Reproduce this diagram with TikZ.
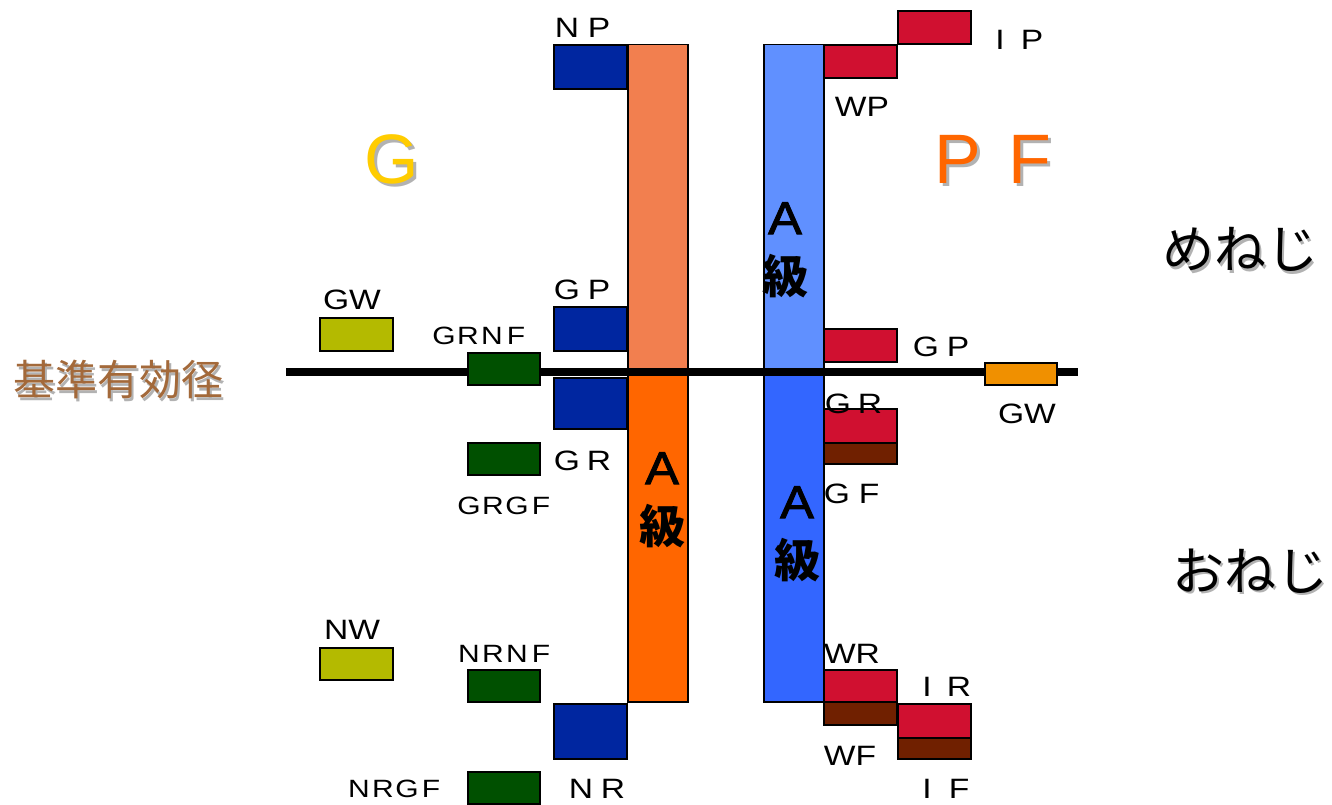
\documentclass[tikz,border=0pt]{standalone}
\usepackage{fontspec}
\setmainfont{Liberation Sans}
\newfontfamily\lblfont[FakeStretch=1.2]{Liberation Sans}
\newfontfamily\gradefont[FakeStretch=1.1,FakeBold=2]{Liberation Sans}
\newfontfamily\jpfont{Noto Sans CJK JP}
\usepackage{xcolor}

\definecolor{barG1}{RGB}{242,127,79}
\definecolor{barG2}{RGB}{255,102,0}
\definecolor{barP1}{RGB}{96,144,255}
\definecolor{barP2}{RGB}{51,102,255}
\definecolor{navy}{RGB}{0,38,160}
\definecolor{dgreen}{RGB}{0,80,0}
\definecolor{olive}{RGB}{180,186,0}
\definecolor{crimson}{RGB}{208,16,48}
\definecolor{rust}{RGB}{112,32,0}
\definecolor{amber}{RGB}{240,144,0}
\definecolor{gold}{RGB}{255,204,0}
\definecolor{tan}{RGB}{163,105,58}

% one letter in a fixed cell
\newcommand{\cell}[1]{\makebox[32pt][c]{#1}}
\newcommand{\qcell}[1]{\makebox[24pt][c]{#1}}
% text with a grey drop shadow
\newcommand{\shd}[1]{\rlap{\kern2.5pt\raisebox{-2.5pt}{\color{black!30}#1}}#1}

\begin{document}
\begin{tikzpicture}[
    x=1pt, y=-1pt,
    bar/.style ={
        draw=black,
        line width=1.5pt,
        anchor=north west,
        inner sep=0pt,
        minimum width=60pt
    },
    box/.style ={
        draw=black,
        line width=2pt,
        anchor=north west,
        inner sep=0pt
    },
    lbl/.style ={
        font=\lblfont\fontsize{28}{28}\selectfont,
        inner sep=0pt
    },
    qlbl/.style ={
        font=\lblfont\fontsize{25}{25}\selectfont,
        inner sep=0pt
    },
    grade/.style ={
        font=\gradefont\fontsize{46}{59}\selectfont,
        align=center,
        inner sep=0pt
    },
    big/.style ={
        font=\fontsize{70}{70}\selectfont,
        inner sep=0pt
    },
    jp/.style ={
        font=\jpfont\fontsize{52}{52}\selectfont,
        inner sep=0pt
    }
    ]

    \useasboundingbox (0,0) rectangle (1332,805);

    % tolerance bars
    \node[bar, fill=barG1, minimum height=328pt] (ga) at (627,44) {};
    \node[bar, fill=barG2, minimum height=329pt] (gb) at (627,372) {};
    \node[bar, fill=barP1, minimum height=328pt] (pa) at (763,44) {};
    \node[bar, fill=barP2, minimum height=329pt] (pb) at (763,372) {};

    % base pitch diameter
    \coordinate (base w) at (286,372);
    \coordinate (base e) at (1078,372);
    \draw[line width=8pt] (base w) -- (base e);

    \foreach \name/\x/\y/\h in {np/553/44/44, ngp/553/306/44, ngr/553/377/51, nr/553/703/55}
        \node[box, fill=navy, minimum width=73pt, minimum height=\h*1pt] (\name) at (\x,\y) {};
    \foreach \name/\y in {grnf/352, grgf/442, nrnf/669, nrgf/771}
        \node[box, fill=dgreen, minimum width=72pt, minimum height=32pt] (\name) at (467,\y) {};
    \foreach \name/\y/\h in {gw/317/33, nw/647/32}
        \node[box, fill=olive, minimum width=73pt, minimum height=\h*1pt] (\name) at (319,\y) {};
    \foreach \name/\x/\y/\h in {wp/823/44/33, ip/897/10/33, pgp/823/328/33, pgr/823/408/34, wr/823/669/32, ir/897/703/34}
        \node[box, fill=crimson, minimum width=73pt, minimum height=\h*1pt] (\name) at (\x,\y) {};
    \foreach \name/\x/\y/\h in {pgf/823/442/21, wf/823/701/23, ifb/897/737/21}
        \node[box, fill=rust, minimum width=73pt, minimum height=\h*1pt] (\name) at (\x,\y) {};
    \node[box, fill=amber, minimum width=72pt, minimum height=22pt] (pgw) at (984,362) {};

    % gauge labels
    \foreach \name/\x/\y/\txt in {lnp/583/28/\cell{N}\cell{P}, lip/1016/40/\cell{I}\cell{P},
            lwp/862/107/WP, lgw/352/300/GW, lngp/583/290/\cell{G}\cell{P},
            lpgp/942/347/\cell{G}\cell{P}, lpgr/854/404/\cell{G}\cell{R}, lpgw/1027/414/GW,
            lngr/583/461/\cell{G}\cell{R}, lpgf/853/494/\cell{G}\cell{F}, lnw/352/630/NW,
            lwr/852/654/WR, lir/943/687/\cell{I}\cell{R}, lwf/850/756/WF,
            lnr/597/789/\cell{N}\cell{R}, lif/943/789/\cell{I}\cell{F}}
        \node[lbl] (\name) at (\x,\y) {\txt};
    \foreach \name/\x/\y/\txt in {lgrnf/480/336/{\qcell{G}\qcell{R}\qcell{N}\qcell{F}},
            lgrgf/505/506/{\qcell{G}\qcell{R}\qcell{G}\qcell{F}},
            lnrnf/505/654/{\qcell{N}\qcell{R}\qcell{N}\qcell{F}},
            lnrgf/395/789/{\qcell{N}\qcell{R}\qcell{G}\qcell{F}}}
        \node[qlbl] (\name) at (\x,\y) {\txt};

    % headings
    \node[big, gold] (hg) at (392,161) {\shd{G}};
    \node[big, barG2] (hpf) at (994,161) {\shd{\makebox[72pt]{P}\makebox[72pt]{F}}};
    \node[grade] (pa txt) at (785,250) {A\\{\jpfont\bfseries 級}};
    \node[grade] (gb txt) at (662,500) {A\\{\jpfont\bfseries 級}};
    \node[grade] (pb txt) at (797,534) {A\\{\jpfont\bfseries 級}};
    \node[jp] (mneji) at (1240,251) {\shd{めねじ}};
    \node[jp] (oneji) at (1250,572) {\shd{おねじ}};
    \node[font=\jpfont\fontsize{42}{42}\selectfont, tan, inner sep=0pt] (kijun) at (118,381) {\shd{基準有効径}};
\end{tikzpicture}
\end{document}
